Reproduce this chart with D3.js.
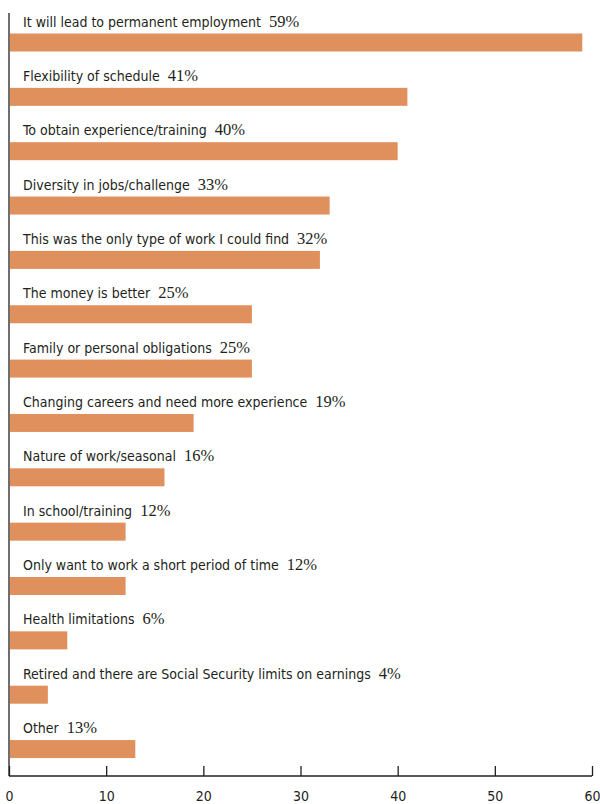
<!DOCTYPE html>
<html>
<head>
<meta charset="utf-8">
<script src="https://cdn.jsdelivr.net/npm/d3@7"></script>
<style>
  html, body { margin: 0; padding: 0; background: #fff; }
  svg { display: block; }
  .reason { font-family: "DejaVu Sans Condensed", "Liberation Sans Narrow", sans-serif; font-size: 14px; }
  .pct { font-family: "Liberation Serif", "Times New Roman", "DejaVu Serif", serif; font-size: 16.5px; }
  .tick text { font-family: "DejaVu Sans Condensed", "Liberation Sans Narrow", sans-serif; font-size: 14px; }
</style>
</head>
<body>
<svg id="chart" width="600" height="804"></svg>
<script>
// Reasons given for working as a temporary employee (% of respondents)
const reasons = [
  "It will lead to permanent employment",
  "Flexibility of schedule",
  "To obtain experience/training",
  "Diversity in jobs/challenge",
  "This was the only type of work I could find",
  "The money is better",
  "Family or personal obligations",
  "Changing careers and need more experience",
  "Nature of work/seasonal",
  "In school/training",
  "Only want to work a short period of time",
  "Health limitations",
  "Retired and there are Social Security limits on earnings",
  "Other"
];
const percents = [59, 41, 40, 33, 32, 25, 25, 19, 16, 12, 12, 6, 4, 13];
const xTicks = [0, 10, 20, 30, 40, 50, 60];

const svg = d3.select("#chart");
const plotLeft = 9, plotRight = 592, plotTop = 13, axisY = 776;

const x = d3.scaleLinear().domain([0, 60]).range([plotLeft, plotRight]);
const y = d3.scaleBand()
  .domain(reasons)
  .range([33.5, 33.5 + 54.35 * 14])
  .paddingInner(0);

const barH = 18;

const rows = svg.append("g").selectAll("g")
  .data(reasons.map((r, i) => ({ reason: r, value: percents[i] })))
  .join("g")
  .attr("transform", d => `translate(0,${y(d.reason)})`);

rows.append("rect")
  .attr("x", x(0) + 1)
  .attr("y", 0)
  .attr("width", d => x(d.value) - x(0) - 1)
  .attr("height", barH)
  .attr("fill", "#E0905C");

const label = rows.append("text")
  .attr("x", 23)
  .attr("y", -7)
  .attr("fill", "#231f20");
label.append("tspan")
  .attr("class", "reason")
  .text(d => d.reason + "\u00a0\u00a0");
label.append("tspan")
  .attr("class", "pct")
  .text(d => d.value + "%");

// Bottom axis with ticks pointing up into the plot
const axis = d3.axisBottom(x).tickValues(xTicks).tickSize(-10).tickFormat(d3.format("d"));
const gx = svg.append("g").attr("transform", `translate(0,${axisY})`).call(axis);
gx.attr("font-family", null).attr("font-size", null);
gx.select(".domain").attr("d", `M${plotLeft},0H${plotRight}`).attr("stroke", "#231f20").attr("stroke-width", 1.3);
gx.selectAll(".tick line").attr("stroke", "#231f20").attr("stroke-width", 1.3);
gx.selectAll(".tick text")
  .attr("y", 24.5)
  .attr("dy", 0)
  .attr("fill", "#231f20");

// Left vertical axis line
svg.append("line")
  .attr("x1", plotLeft).attr("x2", plotLeft)
  .attr("y1", plotTop).attr("y2", axisY)
  .attr("stroke", "#231f20").attr("stroke-width", 1.3);
</script>
</body>
</html>
